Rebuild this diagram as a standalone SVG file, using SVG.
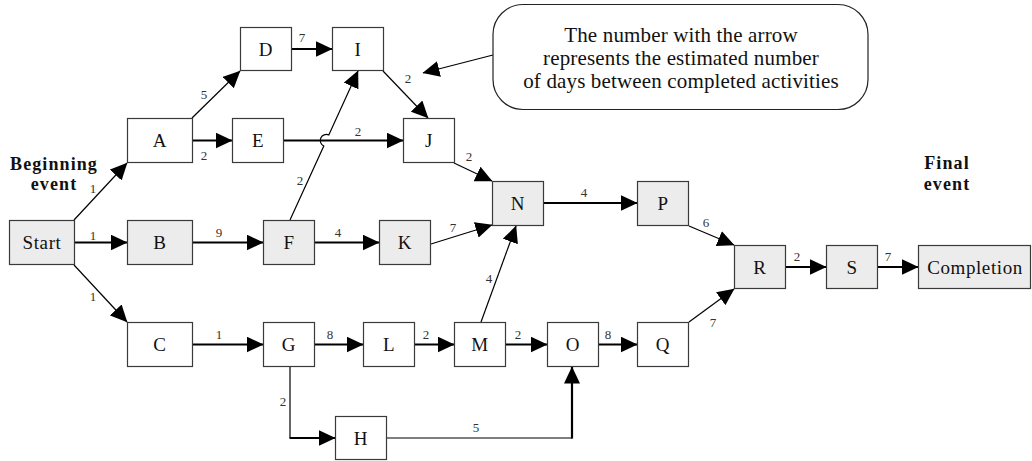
<svg xmlns="http://www.w3.org/2000/svg" width="1032" height="461" viewBox="0 0 1032 461">
  <defs>
    <marker id="arrow" viewBox="0 0 17 16" refX="16.5" refY="8" markerWidth="17" markerHeight="16" markerUnits="userSpaceOnUse" orient="auto">
      <path d="M0,0 L17,8 L0,16 z" fill="#000"/>
    </marker>
    <style>
      .box { stroke: #3a3a3a; stroke-width: 1.2; }
      .white { fill: #ffffff; }
      .grey { fill: #ececec; }
      .lbl { font-family: "Liberation Serif", "Times New Roman", serif; font-size: 19px; letter-spacing: 0.6px; fill: #111; text-anchor: middle; }
      .num { font-family: "Liberation Serif", "Times New Roman", serif; font-size: 13px; fill: #333; text-anchor: middle; }
      .event { font-family: "Liberation Serif", "Times New Roman", serif; font-size: 18px; font-weight: bold; letter-spacing: 1.1px; fill: #111; text-anchor: middle; }
      .note { font-family: "Liberation Serif", "Times New Roman", serif; font-size: 21px; letter-spacing: 0.15px; fill: #111; text-anchor: middle; }
      .thin { fill: none; stroke: #000; stroke-width: 1.2; }
      .thick { fill: none; stroke: #000; stroke-width: 2.2; }
    </style>
  </defs>

  <rect width="1032" height="461" fill="#ffffff"/>

  <!-- connectors -->
  <g id="connectors">
    <path class="thin" d="M74,220 L127,163" marker-end="url(#arrow)"/>
    <path class="thick" d="M74,242.5 L127,242.5" marker-end="url(#arrow)"/>
    <path class="thin" d="M74,265 L127,322" marker-end="url(#arrow)"/>
    <path class="thin" d="M192,118 L240,71" marker-end="url(#arrow)"/>
    <path class="thick" d="M192,140.5 L232,140.5" marker-end="url(#arrow)"/>
    <path class="thick" d="M292,49 L332,49" marker-end="url(#arrow)"/>
    <path class="thick" d="M284,140.5 L403,140.5" marker-end="url(#arrow)"/>
    <!-- F to I, hopping over the E to J line -->
    <path class="thin" d="M290,220 L323.8,146 A6,6 0 0 1 328.8,135 L358,71" marker-end="url(#arrow)"/>
    <path class="thin" d="M383,71 L428,118" marker-end="url(#arrow)"/>
    <path class="thin" d="M454,163 L492,181" marker-end="url(#arrow)"/>
    <path class="thick" d="M192,242.5 L263,242.5" marker-end="url(#arrow)"/>
    <path class="thick" d="M315,242.5 L379,242.5" marker-end="url(#arrow)"/>
    <path class="thin" d="M431,244 L492,225" marker-end="url(#arrow)"/>
    <path class="thick" d="M544,203 L637,203" marker-end="url(#arrow)"/>
    <path class="thin" d="M481,322 L516,226" marker-end="url(#arrow)"/>
    <path class="thick" d="M192,344.5 L263,344.5" marker-end="url(#arrow)"/>
    <path class="thick" d="M315,344.5 L363,344.5" marker-end="url(#arrow)"/>
    <path class="thick" d="M414,344.5 L454,344.5" marker-end="url(#arrow)"/>
    <path class="thick" d="M506,344.5 L547,344.5" marker-end="url(#arrow)"/>
    <path class="thick" d="M598,344.5 L637,344.5" marker-end="url(#arrow)"/>
    <!-- G to H -->
    <path class="thin" d="M290,367 L290,438"/>
    <path class="thick" d="M289.5,438 L335,438" marker-end="url(#arrow)"/>
    <!-- H to O -->
    <path class="thin" d="M387,438 L572,438"/>
    <path class="thick" d="M572,438.6 L572,367" marker-end="url(#arrow)"/>
    <path class="thin" d="M689,226 L734,245" marker-end="url(#arrow)"/>
    <path class="thin" d="M689,322 L734,289" marker-end="url(#arrow)"/>
    <path class="thick" d="M786,267 L826,267" marker-end="url(#arrow)"/>
    <path class="thick" d="M878,267 L918,267" marker-end="url(#arrow)"/>
    <!-- pointer from the note -->
    <path class="thin" d="M493,55 L423,73" marker-end="url(#arrow)"/>

    <!-- durations -->
    <text class="num" x="93" y="193">1</text>
    <text class="num" x="93" y="240">1</text>
    <text class="num" x="93" y="301">1</text>
    <text class="num" x="204" y="99">5</text>
    <text class="num" x="204" y="160">2</text>
    <text class="num" x="302" y="42">7</text>
    <text class="num" x="358" y="136">2</text>
    <text class="num" x="300" y="185">2</text>
    <text class="num" x="408" y="83">2</text>
    <text class="num" x="469" y="161">2</text>
    <text class="num" x="219" y="237">9</text>
    <text class="num" x="338" y="237">4</text>
    <text class="num" x="453" y="232">7</text>
    <text class="num" x="584" y="197">4</text>
    <text class="num" x="489" y="283">4</text>
    <text class="num" x="219" y="339">1</text>
    <text class="num" x="330" y="339">8</text>
    <text class="num" x="426" y="339">2</text>
    <text class="num" x="518" y="339">2</text>
    <text class="num" x="608" y="339">8</text>
    <text class="num" x="283" y="406">2</text>
    <text class="num" x="476" y="432">5</text>
    <text class="num" x="706" y="227">6</text>
    <text class="num" x="713" y="327">7</text>
    <text class="num" x="797" y="261">2</text>
    <text class="num" x="888" y="261">7</text>
  </g>

  <!-- activities -->
  <g id="start"><rect class="box grey" x="9.5" y="220.5" width="65" height="44"/><text class="lbl" x="42" y="249">Start</text></g>
  <g id="a"><rect class="box white" x="127.5" y="118.5" width="65" height="44"/><text class="lbl" x="160" y="147">A</text></g>
  <g id="b"><rect class="box grey" x="127.5" y="220.5" width="65" height="44"/><text class="lbl" x="160" y="249">B</text></g>
  <g id="c"><rect class="box white" x="127.5" y="322.5" width="65" height="44"/><text class="lbl" x="160" y="351">C</text></g>
  <g id="d"><rect class="box white" x="240.5" y="27.5" width="51" height="43"/><text class="lbl" x="266" y="55.5">D</text></g>
  <g id="e"><rect class="box white" x="232.5" y="118.5" width="51" height="44"/><text class="lbl" x="258" y="147">E</text></g>
  <g id="f"><rect class="box grey" x="263.5" y="220.5" width="51" height="44"/><text class="lbl" x="289" y="249">F</text></g>
  <g id="g"><rect class="box white" x="263.5" y="322.5" width="51" height="44"/><text class="lbl" x="289" y="351">G</text></g>
  <g id="h"><rect class="box white" x="335.5" y="416.5" width="51" height="43"/><text class="lbl" x="361" y="444.5">H</text></g>
  <g id="i"><rect class="box white" x="332.5" y="27.5" width="51" height="43"/><text class="lbl" x="358" y="55.5">I</text></g>
  <g id="j"><rect class="box white" x="403.5" y="118.5" width="51" height="44"/><text class="lbl" x="429" y="147">J</text></g>
  <g id="k"><rect class="box grey" x="379.5" y="220.5" width="51" height="44"/><text class="lbl" x="405" y="249">K</text></g>
  <g id="l"><rect class="box white" x="363.5" y="322.5" width="51" height="44"/><text class="lbl" x="389" y="351">L</text></g>
  <g id="m"><rect class="box white" x="454.5" y="322.5" width="51" height="44"/><text class="lbl" x="480" y="351">M</text></g>
  <g id="n"><rect class="box grey" x="492.5" y="181.5" width="51" height="44"/><text class="lbl" x="518" y="210">N</text></g>
  <g id="o"><rect class="box white" x="547.5" y="322.5" width="51" height="44"/><text class="lbl" x="573" y="351">O</text></g>
  <g id="p"><rect class="box grey" x="637.5" y="181.5" width="51" height="44"/><text class="lbl" x="663" y="210">P</text></g>
  <g id="q"><rect class="box white" x="637.5" y="322.5" width="51" height="44"/><text class="lbl" x="663" y="351">Q</text></g>
  <g id="r"><rect class="box grey" x="734.5" y="245.5" width="51" height="43"/><text class="lbl" x="760" y="273.5">R</text></g>
  <g id="s"><rect class="box grey" x="826.5" y="245.5" width="51" height="43"/><text class="lbl" x="852" y="273.5">S</text></g>
  <g id="completion"><rect class="box grey" x="918.5" y="245.5" width="112" height="43"/><text class="lbl" x="975" y="273.5">Completion</text></g>

  <!-- event captions -->
  <g id="beginning-event">
    <text class="event" x="54" y="170">Beginning</text>
    <text class="event" x="54" y="190">event</text>
  </g>
  <g id="final-event">
    <text class="event" x="947" y="169">Final</text>
    <text class="event" x="947" y="190">event</text>
  </g>

  <!-- explanatory note -->
  <g id="note">
    <rect x="493" y="4.5" width="375" height="105" rx="30" ry="30" fill="#ffffff" stroke="#222" stroke-width="1.2"/>
    <text class="note" x="681" y="42">The number with the arrow</text>
    <text class="note" x="681" y="65">represents the estimated number</text>
    <text class="note" x="681" y="88">of days between completed activities</text>
  </g>
</svg>
